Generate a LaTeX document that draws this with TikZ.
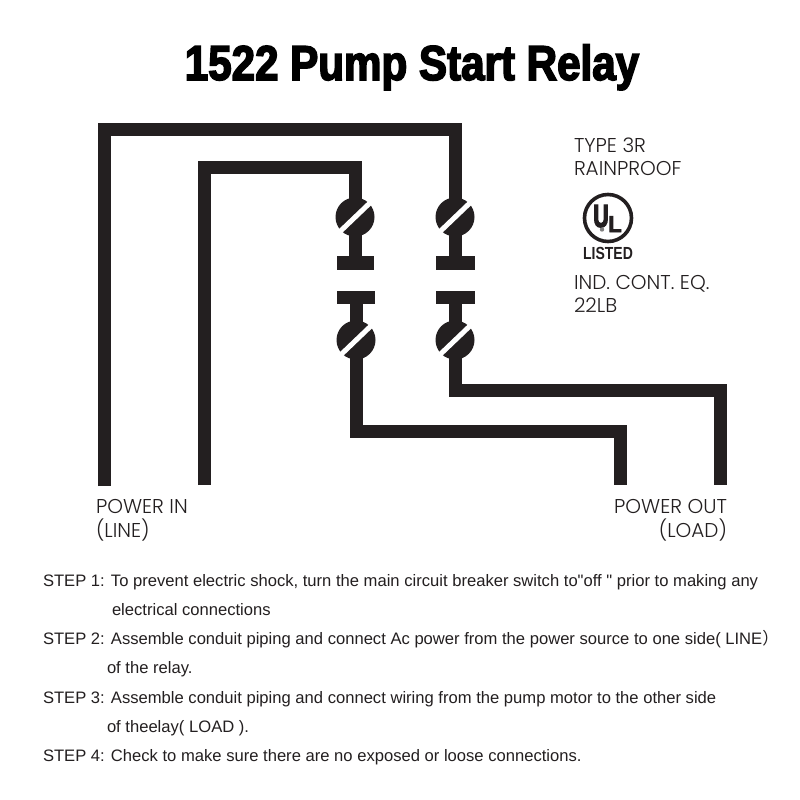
\documentclass[tikz,border=0pt]{standalone}
\usepackage{fontspec}
\setmainfont{Liberation Sans}
\newfontfamily\quotefont{Liberation Sans}
\newfontfamily\titlefont[FakeStretch=0.86,FakeBold=3.2]{Liberation Sans Bold}
\newfontfamily\labelfont{Poppins Light}
\newfontfamily\cjkfont{Noto Sans CJK SC}
\newfontfamily\logofont[FakeStretch=0.8]{Liberation Sans Bold}
\newfontfamily\logoufont[FakeStretch=0.66,FakeBold=4]{Liberation Sans Bold}
\newfontfamily\logolfont[FakeStretch=0.95,FakeBold=3]{Liberation Sans Bold}
\definecolor{ink}{HTML}{231F20}
\tikzset{
  x=1pt,y=-1pt,
  wire/.style={draw=ink,line width=13pt,line join=miter,line cap=butt},
  txt/.style={anchor=base west,inner sep=0pt,outer sep=0pt,text=black},
  steptext/.style={txt,font=\fontsize{16.6}{18}\selectfont,text=ink},
  difflabel/.style={txt,font=\labelfont\fontsize{20}{22}\selectfont,text=ink},
  difflabelr/.style={difflabel,anchor=base east},
  screw/.pic={
    \fill[ink] (0,0) circle (19.5);
    \draw[white,line width=5pt] (-16.5,16) -- (18,-17);
  },
  terminaltop/.pic={
    \fill[ink] (-6.5,0) rectangle (6.5,40);
    \fill[ink] (-18.5,39) rectangle (19,53);
    \pic {screw};
  },
  terminalbot/.pic={
    \fill[ink] (-6.5,0) rectangle (6.5,-40);
    \fill[ink] (-19,-36) rectangle (18.5,-49);
    \pic {screw};
  },
  terminaltopwide/.pic={
    \fill[ink] (-6.5,0) rectangle (6.5,40);
    \fill[ink] (-19.5,39) rectangle (20,53);
    \pic {screw};
  },
  terminalbotwide/.pic={
    \fill[ink] (-6.5,0) rectangle (6.5,-40);
    \fill[ink] (-19.5,-36) rectangle (20,-49);
    \pic {screw};
  }
}
\begin{document}
\begin{tikzpicture}
\useasboundingbox (0,0) rectangle (800,800);
\fill[white] (0,0) rectangle (800,800);
\node[anchor=base,inner sep=0pt,font=\titlefont\fontsize{49}{56}\selectfont,text=black] (title) at (412,80) {1522 Pump Start Relay};

\coordinate (lineA) at (104,486);
\coordinate (lineAc1) at (104,129);
\coordinate (lineAc2) at (455,129);
\coordinate (t2) at (455,217);
\coordinate (lineB) at (204,485);
\coordinate (lineBc1) at (204,167);
\coordinate (lineBc2) at (355,167);
\coordinate (t1) at (355,217);
\coordinate (b1) at (356,340);
\coordinate (b2) at (455,340);
\coordinate (loadA) at (620,485);
\coordinate (loadAc1) at (356,431);
\coordinate (loadAc2) at (620,431);
\coordinate (loadB) at (720,485);
\coordinate (loadBc1) at (455,390);
\coordinate (loadBc2) at (720,390);

\draw[wire] (lineA) -- (lineAc1) -- (lineAc2) -- (t2);
\draw[wire] (lineB) -- (lineBc1) -- (lineBc2) -- (t1);
\draw[wire] (b1) -- (loadAc1) -- (loadAc2) -- (loadA);
\draw[wire] (b2) -- (loadBc1) -- (loadBc2) -- (loadB);

\pic at (t1) {terminaltop};
\pic at (t2) {terminaltopwide};
\pic at (b1) {terminalbot};
\pic at (b2) {terminalbotwide};

\node[difflabel] (type) at (574,152) {TYPE 3R};
\node[difflabel] (rain) at (574,175) {RAINPROOF};
\node[difflabel] (ind) at (574,289) {IND. CONT. EQ.};
\node[difflabel] (lb) at (574,312) {22LB};
\node[difflabel] (pin) at (96,513) {POWER IN};
\node[difflabel] (pinl) at (96,537) {(LINE)};
\node[difflabelr] (pout) at (727,513) {POWER OUT};
\node[difflabelr] (poutl) at (727,537) {(LOAD)};

% UL mark
\draw[ink,line width=3.6pt] (608,218) circle (23.5);
\node[anchor=base,inner sep=0pt,font=\logoufont\fontsize{32}{32}\selectfont,text=ink] (ulu) at (601,227) {U};
\node[anchor=base,inner sep=0pt,font=\logolfont\fontsize{23}{23}\selectfont,text=ink] (ull) at (615,232) {L};
\fill[gray] (602,229.5) circle (2.2);
\node[anchor=base,inner sep=0pt,font=\logofont\fontsize{17.5}{18}\selectfont,text=ink] (listed) at (608,259) {LISTED};

\node[steptext] (s1) at (43,586) {STEP 1: To prevent electric shock, turn the main circuit breaker switch to{\quotefont "}off {\quotefont "} prior to making any};
\node[steptext] (s1b) at (112,615) {electrical connections};
\node[steptext] (s2) at (43,644) {STEP 2: Assemble conduit piping and connect Ac power from the power source to one side( LINE{\cjkfont ）}};
\node[steptext] (s2b) at (107,673) {of the relay.};
\node[steptext] (s3) at (43,703) {STEP 3: Assemble conduit piping and connect wiring from the pump motor to the other side};
\node[steptext] (s3b) at (107,732) {of theelay( LOAD ).};
\node[steptext] (s4) at (43,761) {STEP 4: Check to make sure there are no exposed or loose connections.};
\end{tikzpicture}
\end{document}
